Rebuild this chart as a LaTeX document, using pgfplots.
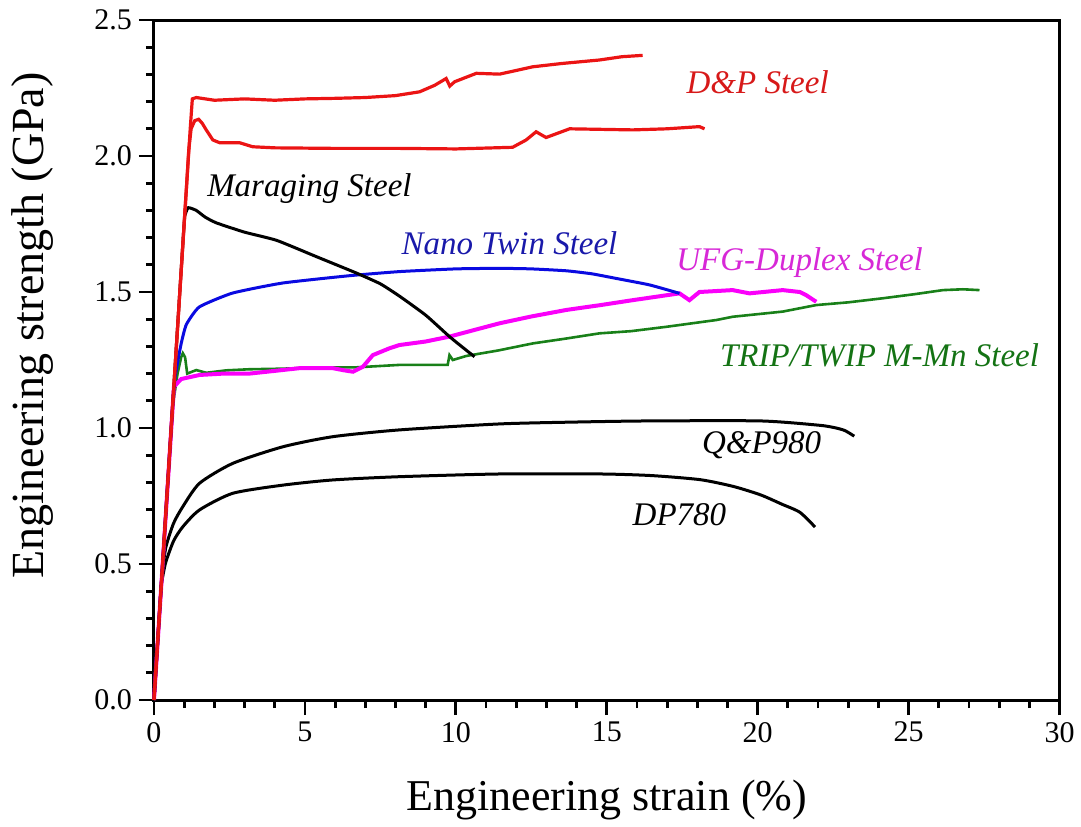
\documentclass[border=0pt]{standalone}
\usepackage{fontspec}
\setmainfont{Liberation Serif}
\usepackage{pgfplots}
\pgfplotsset{compat=1.18}

\definecolor{dpred}{RGB}{235,20,20}
\definecolor{twinblue}{RGB}{10,10,225}
\definecolor{ufgpink}{RGB}{250,0,250}
\definecolor{tripgreen}{RGB}{25,128,25}
\definecolor{labred}{RGB}{215,25,25}
\definecolor{labblue}{RGB}{25,25,170}
\definecolor{labpink}{RGB}{215,40,215}
\definecolor{labgreen}{RGB}{20,115,20}

\begin{document}
\begin{tikzpicture}
\begin{axis}[
  at={(0,0)}, anchor=south west,
  scale only axis,
  width=452.75pt, height=340pt,
  xmin=0, xmax=30, ymin=0, ymax=2.5,
  xtick={0,5,...,30},
  ytick={0,0.5,...,2.5},
  minor x tick num=4,
  minor y tick num=4,
  tick pos=left,
  tick align=outside,
  major tick length=7.5pt,
  minor tick length=4pt,
  every tick/.style={black, line width=1.4pt},
  axis line style={line width=1.5pt},
  /pgf/number format/assume math mode=true,
  ticklabel style={font=\fontsize{15}{18}\selectfont},
  yticklabel={\pgfmathprintnumber[fixed,fixed zerofill,precision=1]{\tick}},
  xlabel={Engineering strain (\%)},
  ylabel={Engineering strength (GPa)},
  xlabel style={font=\fontsize{22}{26}\selectfont, at={(axis description cs:0.5,-0.147)}, anchor=center},
  ylabel style={font=\fontsize{23}{27}\selectfont, at={(axis description cs:-0.134,0.551)}, anchor=center},
  clip=false
]

% DP780
\addplot[black, line width=1.5pt, smooth, tension=0.4] coordinates {
  (0,0) (0.22,0.39) (0.3,0.46) (0.4,0.51) (0.65,0.585) (0.955,0.637)
  (1.51,0.699) (2.61,0.760) (4.27,0.790) (5.92,0.809) (8.13,0.821)
  (11.45,0.831) (14.8,0.831) (16.5,0.825) (18.1,0.81) (19.2,0.785)
  (20.1,0.754) (20.8,0.72) (21.4,0.69) (21.9,0.636)
};

% Q&P980
\addplot[black, line width=1.5pt, smooth, tension=0.4] coordinates {
  (0,0) (0.22,0.39) (0.30,0.49) (0.40,0.565) (0.65,0.65) (0.955,0.711)
  (1.51,0.797) (2.61,0.870) (4.27,0.931) (5.92,0.968) (8.13,0.993)
  (11.45,1.015) (14,1.022) (16.4,1.026) (20.1,1.026) (22.05,1.01)
  (22.6,1.0) (22.9,0.99) (23.2,0.97)
};

% TRIP/TWIP M-Mn steel
\addplot[tripgreen, line width=1.3pt] coordinates {
  (0,0) (0.62,1.08) (0.78,1.2) (0.9,1.26) (0.955,1.275) (1.03,1.26)
  (1.1,1.2) (1.4,1.213) (1.73,1.203) (2.4,1.212) (3.16,1.216) (4.2,1.218)
  (5.37,1.222) (6.7,1.223) (8.13,1.232) (9.73,1.232) (9.79,1.268)
  (9.9,1.25) (10.35,1.265) (11.4,1.285) (12.55,1.311) (13.6,1.328)
  (14.76,1.348) (15.8,1.356) (16.97,1.372) (18.63,1.397) (19.17,1.409)
  (20.83,1.428) (21.94,1.452) (23.0,1.462) (24.15,1.477) (25.2,1.492)
  (26.14,1.507) (26.8,1.51) (27.35,1.507)
};

% UFG-Duplex steel
\addplot[ufgpink, line width=2pt] coordinates {
  (0,0) (0.66,1.15) (0.73,1.16) (0.9,1.18) (1.51,1.195) (2.3,1.20)
  (3.16,1.20) (4,1.21) (4.82,1.22) (5.92,1.22) (6.3,1.212) (6.59,1.207)
  (6.92,1.225) (7.25,1.268) (7.8,1.293) (8.13,1.305) (9.0,1.318)
  (9.79,1.336) (10.6,1.36) (11.45,1.385) (12.5,1.41) (13.66,1.434)
  (14.8,1.452) (15.86,1.47) (17.41,1.495) (17.74,1.47) (18.07,1.50)
  (19.17,1.507) (19.73,1.495) (20.83,1.507) (21.4,1.50) (21.6,1.489)
  (21.94,1.464)
};

% Nano twin steel
\addplot[twinblue, line width=1.5pt, smooth, tension=0.3] coordinates {
  (0,0) (0.63,1.1) (0.75,1.22) (0.9,1.31) (1.07,1.38) (1.5,1.445)
  (2.6,1.496) (4.26,1.533) (6.48,1.56) (8.13,1.575) (10,1.585)
  (11.45,1.587) (12.5,1.585) (13.66,1.578) (14.5,1.567) (15.31,1.55)
  (16.42,1.526) (17.41,1.495)
};

% Maraging steel
\addplot[black, line width=1.5pt, smooth, tension=0.3] coordinates {
  (0,0) (0.98,1.72) (1.05,1.79) (1.14,1.81) (1.4,1.80) (1.7,1.775)
  (2.07,1.754) (3.0,1.72) (4.06,1.69) (5.38,1.63) (6.7,1.57) (7.5,1.53)
  (8.13,1.485) (9.0,1.415) (9.79,1.336) (10.3,1.29) (10.62,1.262)
};

% D&P steel, lower
\addplot[dpred, line width=1.6pt] coordinates {
  (0,0) (1.1,1.93) (1.15,2.02) (1.23,2.1) (1.35,2.13) (1.48,2.135)
  (1.6,2.12) (1.73,2.096) (1.95,2.059) (2.17,2.049) (2.83,2.049)
  (3.27,2.034) (4,2.03) (6,2.028) (8.13,2.028) (10,2.026) (11.88,2.032)
  (12.33,2.059) (12.66,2.089) (12.99,2.068) (13.77,2.10) (15.86,2.096)
  (17,2.10) (18.07,2.108) (18.24,2.10)
};

% D&P steel, upper
\addplot[dpred, line width=1.6pt] coordinates {
  (0,0) (1.2,2.1) (1.27,2.21) (1.4,2.215) (2,2.205) (3,2.21) (4,2.205)
  (5,2.21) (6,2.212) (7,2.215) (8,2.222) (8.8,2.236) (9.3,2.26)
  (9.68,2.285) (9.8,2.257) (9.96,2.273) (10.68,2.304) (11.45,2.301)
  (12.55,2.328) (13.5,2.34) (14.76,2.353) (15.5,2.365) (16.19,2.37)
};

\tikzset{lab/.style={font=\fontsize{16.5}{20}\selectfont\itshape, anchor=center}}
\node[lab, text=labred] at (axis cs:20.0,2.272) {D\&P Steel};
\node[lab, text=black] at (axis cs:5.15,1.882) {Maraging Steel};
\node[lab, text=labblue] at (axis cs:11.78,1.68) {Nano Twin Steel};
\node[lab, text=labpink] at (axis cs:21.39,1.61) {UFG-Duplex Steel};
\node[lab, text=labgreen] at (axis cs:24.04,1.268) {TRIP/TWIP M-Mn Steel};
\node[lab, text=black] at (axis cs:20.13,0.9375) {Q\&P980};
\node[lab, text=black] at (axis cs:17.41,0.68) {DP780};

\end{axis}
\pgfresetboundingbox
\path[use as bounding box] (-77pt,-63pt) rectangle (463.5pt,350pt);
\end{tikzpicture}
\end{document}
